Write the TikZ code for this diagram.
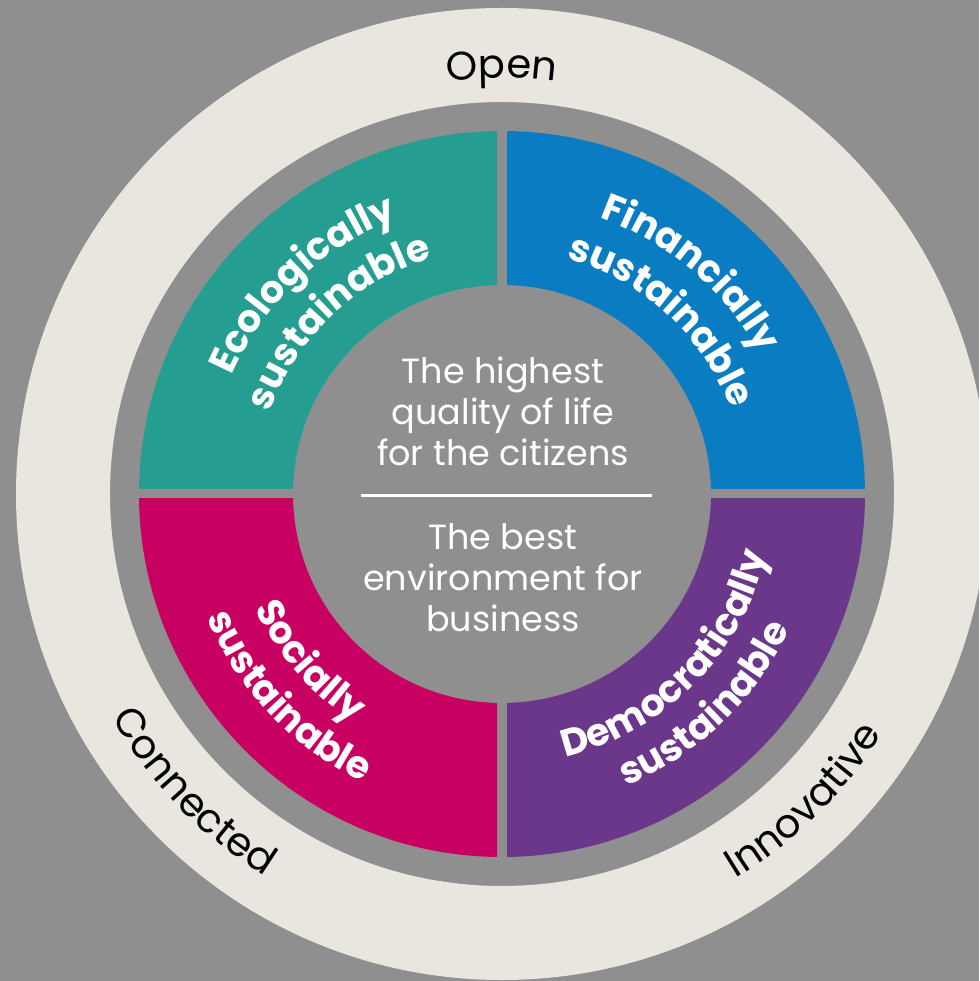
\documentclass[tikz,border=0pt]{standalone}
\usepackage{fontspec}
\setmainfont{Poppins}
\usepackage{tikz}
\usetikzlibrary{decorations.text}

\definecolor{bggray}{HTML}{8F8F8F}
\definecolor{ringcream}{HTML}{E9E6E0}
\definecolor{ecoteal}{HTML}{259E91}
\definecolor{finblue}{HTML}{0A7DC2}
\definecolor{socmagenta}{HTML}{C70062}
\definecolor{dempurple}{HTML}{6A378A}

\newcommand{\quadfont}{\bfseries\fontsize{38}{38}\selectfont\color{white}}
\newcommand{\ringfont}{\fontsize{40}{40}\selectfont\color{black}}
% text on an arc: radius, centre angle, text
\newcommand{\cwlabel}[3]{\path[decorate, decoration={text along path, text align=center, text={#3}}]
  ({#2+70}:#1) arc[start angle={#2+70}, end angle={#2-70}, radius=#1];}
\newcommand{\ccwlabel}[3]{\path[decorate, decoration={text along path, text align=center, text={#3}}]
  ({#2-70}:#1) arc[start angle={#2-70}, end angle={#2+70}, radius=#1];}

\begin{document}
\begin{tikzpicture}[x=1pt, y=1pt,
  core/.style={text=white, align=center, font=\fontsize{35}{41}\selectfont, inner sep=0pt}]
% page and background
\useasboundingbox (-502,-487) rectangle (477,494);
\clip (-502,-487) rectangle (477,494);
\fill[bggray] (-502,-487) rectangle (477,494);
% outer ring
\fill[ringcream, even odd rule] (0,0) circle[radius=486] (0,0) circle[radius=392];
% four quadrants
\foreach \a/\col/\sx/\sy in {90/ecoteal/-1/1, 0/finblue/1/1, 180/socmagenta/-1/-1, 270/dempurple/1/-1}{
  \begin{scope}
    \clip (5*\sx,5*\sy) rectangle (400*\sx,400*\sy);
    \fill[\col] (\a:363) arc[start angle=\a, delta angle=90, radius=363]
      -- ({\a+90}:209) arc[start angle={\a+90}, delta angle=-90, radius=209] -- cycle;
  \end{scope}
}
% quadrant labels
\cwlabel{295}{133.5}{|\quadfont|Ecologically}
\cwlabel{246}{133.5}{|\quadfont|sustainable}
\cwlabel{293}{49.5}{|\quadfont|Financially}
\cwlabel{244}{47.5}{|\quadfont|sustainable}
\ccwlabel{272}{221}{|\quadfont|Socially}
\ccwlabel{320}{223.5}{|\quadfont|sustainable}
\ccwlabel{271}{315.5}{|\quadfont|Democratically}
\ccwlabel{318}{314}{|\quadfont|sustainable}
% ring labels
\cwlabel{416}{90}{|\ringfont|Open}
\ccwlabel{450}{224}{|\ringfont|Connected}
\ccwlabel{450}{314.5}{|\ringfont|Innovative}
% centre
\node[core, anchor=base] (quality) at (1,28) {The highest\\quality of life\\for the citizens};
\node[core, anchor=base] (business) at (1,-138) {The best\\environment for\\business};
\draw[white, line width=3pt] (-141,-2) -- (150,-2);
\end{tikzpicture}
\end{document}
